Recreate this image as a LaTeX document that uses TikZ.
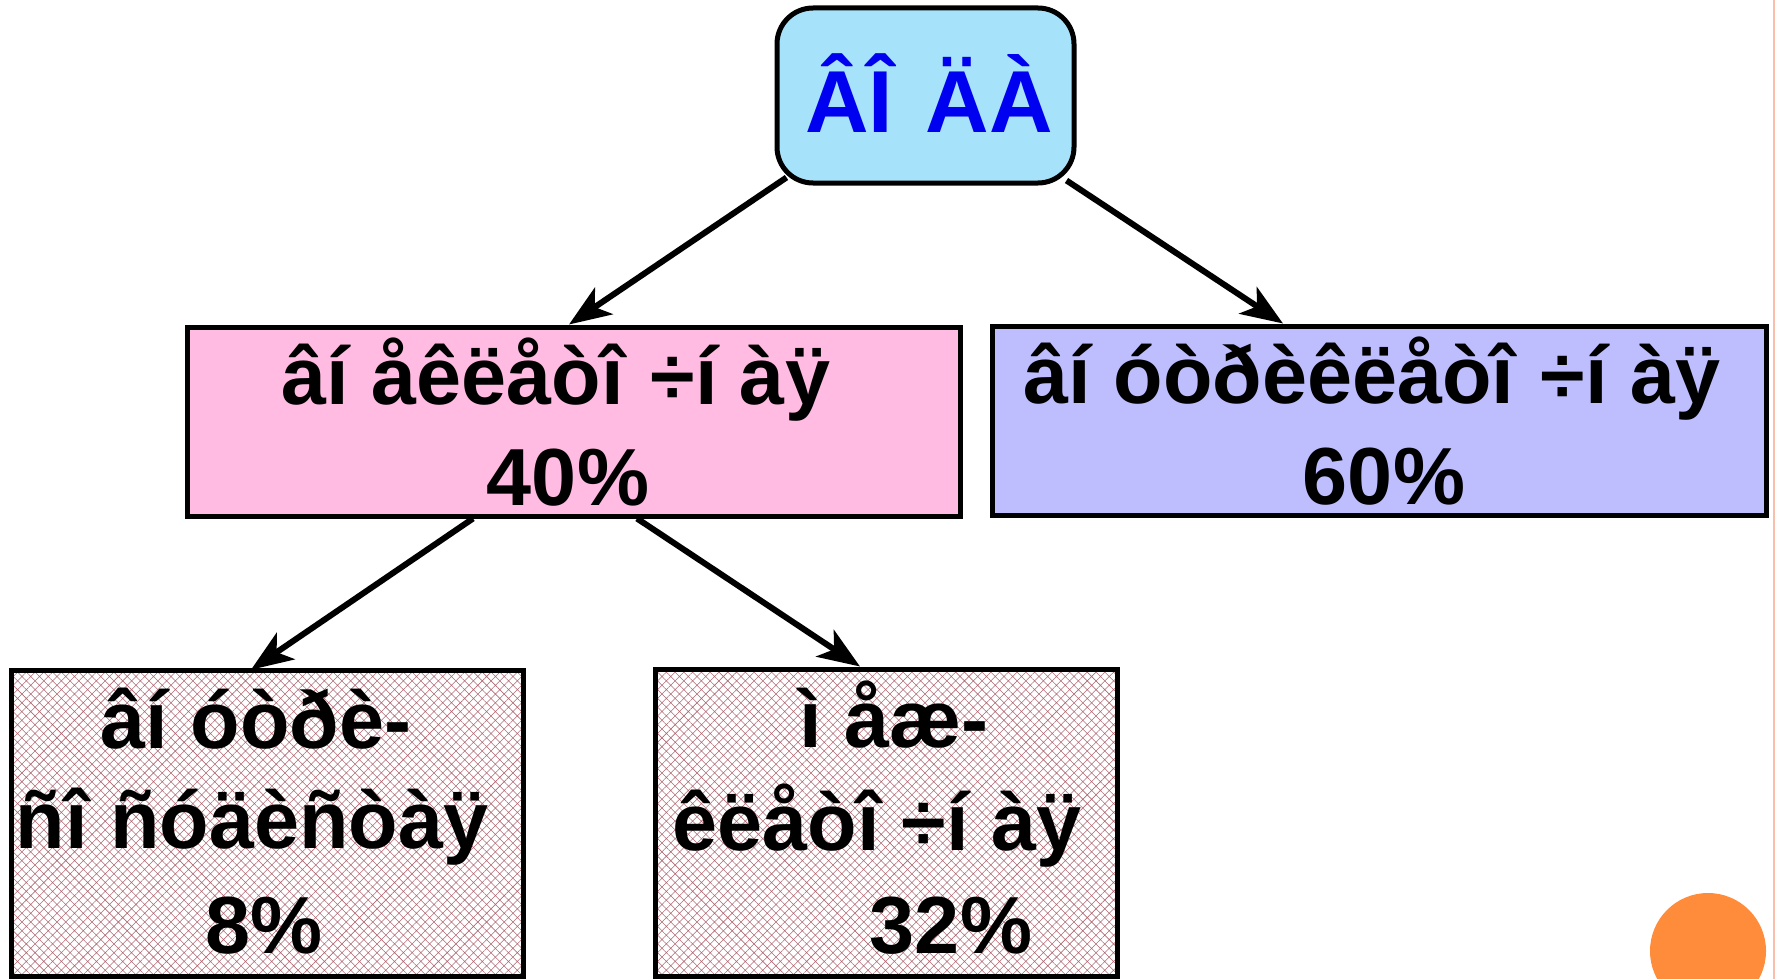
\documentclass[tikz,border=0pt]{standalone}
\usepackage{fontspec}
\setmainfont{Liberation Sans}
\usetikzlibrary{arrows.meta,patterns.meta}
\definecolor{topfill}{RGB}{166,227,250}
\definecolor{topblue}{RGB}{0,0,240}
\definecolor{pinkfill}{RGB}{255,187,225}
\definecolor{purplefill}{RGB}{190,190,255}
\definecolor{hatchred}{RGB}{175,105,115}
\definecolor{dotorange}{RGB}{255,140,58}
\definecolor{edgesalmon}{RGB}{250,190,170}
\tikzset{
  box/.style={draw=black, line width=5pt, inner sep=0pt, rectangle},
  hatchbox/.style={box, pattern={Hatch[angle=45,distance=6.2pt,line width=0.55pt]}, pattern color=hatchred},
  lbl/.style={anchor=base, inner sep=0pt, font=\bfseries\fontsize{81}{96}\selectfont},
  toplbl/.style={lbl, text=topblue, font=\bfseries\fontsize{88}{100}\selectfont},
  arr/.style={line width=6pt, -{Stealth[length=42pt,width=32pt,inset=11pt]}},
}
\begin{document}
\begin{tikzpicture}[x=1pt,y=-1pt]
\useasboundingbox (0,0) rectangle (1775,979);
\clip (0,0) rectangle (1775,979);
% boxes
\node[box, fill=topfill, rounded corners=36pt, minimum width=297pt, minimum height=175pt] (top) at (925.5,95.5) {};
\node[box, fill=pinkfill, minimum width=773pt, minimum height=189pt] (pink) at (573.5,421.5) {};
\node[box, fill=purplefill, minimum width=774pt, minimum height=189pt] (purple) at (1379,420.5) {};
\node[hatchbox, minimum width=512pt, minimum height=306pt] (bl) at (267,823) {};
\node[hatchbox, minimum width=462pt, minimum height=307pt] (bm) at (886,822.5) {};
% labels
\node[toplbl] (t1) at (929,133) {ÂÎ\hspace{8pt} ÄÀ};
\node[lbl] (p1) at (556,404) {âí åêëåòî \hspace{4pt}÷í àÿ};
\node[lbl] (p2) at (568,505) {40\%};
\node[lbl] (q1) at (1372,403) {âí óòðèêëåòî \hspace{4pt}÷í àÿ};
\node[lbl] (q2) at (1384,504) {60\%};
\node[lbl] (l1) at (256,748) {âí óòðè-};
\node[lbl] (l2) at (252,848) {ñî ñóäèñòàÿ};
\node[lbl] (l3) at (264,953) {8\%};
\node[lbl] (m1) at (894,747) {ì åæ-};
\node[lbl] (m2) at (877,850) {êëåòî ÷í àÿ};
\node[lbl] (m3) at (951,953) {32\%};
% connectors
\draw[arr] ([shift={(12,-8)}]top.south west) -- ([shift={(-4.5,0)}]pink.north);
\draw[arr] ([shift={(-10,-5)}]top.south east) -- ([shift={(-96,0)}]purple.north);
\draw[arr] ([shift={(-100.5,0)}]pink.south) -- ([shift={(-16,0)}]bl.north);
\draw[arr] ([shift={(63.5,0)}]pink.south) -- ([shift={(-26,0)}]bm.north);
% decorations
\fill[dotorange] (1708,951) circle[radius=58];
\draw[edgesalmon, line width=1.5pt] (1774,0) -- (1774,979);
\end{tikzpicture}
\end{document}
